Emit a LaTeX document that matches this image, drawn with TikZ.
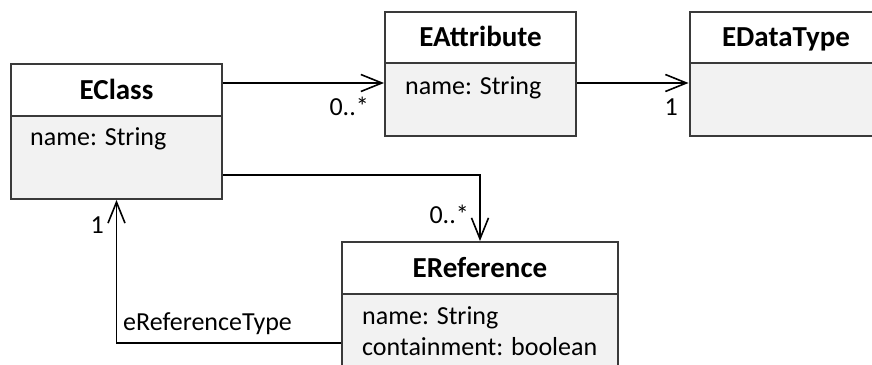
\documentclass[tikz,border=0pt]{standalone}
\usepackage{fontspec}
\setmainfont{Carlito}
\usetikzlibrary{arrows.meta,calc}
\definecolor{boxline}{HTML}{3A3A3A}
\definecolor{bodyfill}{HTML}{F2F2F2}
\begin{document}
\begin{tikzpicture}[x=1pt,y=-1pt,
  classhead/.style={draw=boxline, line width=2pt, fill=white, inner sep=0pt,
    font=\fontsize{29}{34}\selectfont\bfseries, text height=18.5pt, text depth=0pt},
  classbody/.style={draw=boxline, line width=2pt, fill=bodyfill, inner sep=0pt},
  attr/.style={font=\fontsize{26}{30}\selectfont, inner sep=0pt, anchor=base west},
  mult/.style={font=\fontsize{26}{30}\selectfont, inner sep=0pt, anchor=base east},
  assoc/.style={line width=1.6pt, -{Straight Barb[length=21pt,width=17pt]}}]
\useasboundingbox (0,0) rectangle (872,364);
\clip (0,0) rectangle (872,364);

% EClass
\node[classbody, minimum width=211pt, minimum height=83pt] (ecB) at (116.5,157.5) {};
\node[classhead, minimum width=211pt, minimum height=52pt] (ecH) at (116.5,90) {EClass};
\node[attr] (ecA1) at (30,145) {name: String};

% EAttribute
\node[classbody, minimum width=191pt, minimum height=73pt] (eaB) at (480.5,99.5) {};
\node[classhead, minimum width=191pt, minimum height=51pt] (eaH) at (480.5,37.5) {EAttribute};
\node[attr] (eaA1) at (405,94) {name: String};

% EDataType
\node[classbody, minimum width=193pt, minimum height=73pt] (edB) at (786,99.5) {};
\node[classhead, minimum width=193pt, minimum height=51pt] (edH) at (786,37.5) {EDataType};

% EReference
\node[classbody, minimum width=276pt, minimum height=90pt] (erB) at (480,339) {};
\node[classhead, minimum width=276pt, minimum height=52pt] (erH) at (480,268) {EReference};
\node[attr] (erA1) at (362,324) {name: String};
\node[attr] (erA2) at (362,355) {containment: boolean};

% routing levels
\coordinate (r1) at (0,83);
\coordinate (r2) at (0,175);
\coordinate (r3) at (0,343);

% connectors
\draw[assoc] (ecH.east |- r1) -- (eaB.west |- r1);
\draw[assoc] (eaB.east |- r1) -- (edB.west |- r1);
\draw[assoc] (ecB.east |- r2) -| (erH.north);
\draw[assoc] (erB.west |- r3) -| (ecB.south);

% labels
\node[mult] (m1) at (369,115) {0..*};
\node[mult] (m2) at (678,115) {1};
\node[mult] (m3) at (469,223) {0..*};
\node[mult] (m4) at (104,233) {1};
\node[attr] (rl) at (123,330) {eReferenceType};
\end{tikzpicture}
\end{document}
